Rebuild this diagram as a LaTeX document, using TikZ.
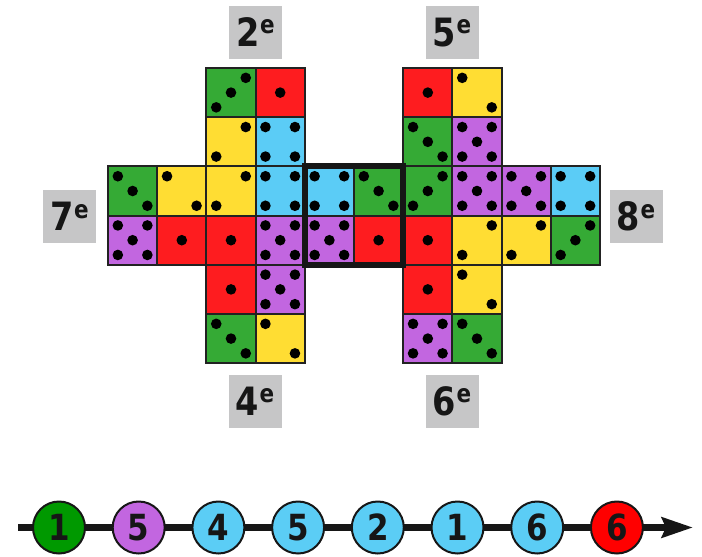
\documentclass[tikz,border=0pt]{standalone}
\usepackage{fontspec}
\setmainfont{DejaVu Sans}
\newfontfamily\condfont{DejaVu Sans}[FakeStretch=0.86]
\usetikzlibrary{arrows.meta}
\definecolor{dgreen}{HTML}{35AA35}
\definecolor{dred}{HTML}{FE1C1F}
\definecolor{dyellow}{HTML}{FFDD33}
\definecolor{dblue}{HTML}{5BCCF6}
\definecolor{dpurple}{HTML}{C266E0}
\definecolor{bgreen}{HTML}{009900}
\definecolor{bpurple}{HTML}{C266E0}
\definecolor{bblue}{HTML}{5BCDF5}
\definecolor{bred}{HTML}{FF0000}
\definecolor{labgray}{HTML}{C6C6C7}
\definecolor{ink}{HTML}{161616}
\definecolor{frame}{HTML}{222222}
\def\pA{0.5/0.5}
\def\pBa{0.2/0.2,0.8/0.8}
\def\pBb{0.8/0.2,0.2/0.8}
\def\pCa{0.2/0.2,0.5/0.5,0.8/0.8}
\def\pCb{0.8/0.2,0.5/0.5,0.2/0.8}
\def\pD{0.2/0.2,0.8/0.2,0.2/0.8,0.8/0.8}
\def\pE{0.2/0.2,0.8/0.2,0.2/0.8,0.8/0.8,0.5/0.5}
\newcommand\diepips[1]{\foreach \fx/\fy in {#1}{\fill[black] ({108+(\dieX+\fx)*49.2},{68+(\dieY+\fy)*49.2}) circle[radius=5.3];}}
\newcommand\die[4]{\def\dieX{#1}\def\dieY{#2}%
  \filldraw[draw=frame,line width=2pt,fill=#3] ({108+#1*49.2},{68+#2*49.2}) rectangle ++(49.2,49.2);
  \expandafter\diepips\expandafter{#4}}
\newcommand\labsup[1]{\kern0.5pt\raisebox{12.5pt}{\fontsize{25}{25}\selectfont #1}}
\tikzset{
  labbox/.style={fill=labgray,minimum width=53pt,minimum height=53pt,inner sep=0pt,
    text height=28pt,text depth=0pt,text=ink,font=\condfont\fontsize{39}{39}\selectfont\bfseries},
  ball/.style={circle,draw=ink,line width=2pt,minimum size=52pt,inner sep=0pt,
    text=ink,font=\condfont\fontsize{36}{36}\selectfont\bfseries},
}
\begin{document}
\begin{tikzpicture}[x=1pt,y=-1pt]
\useasboundingbox (0,0) rectangle (702,557);
% row 0
\die{2}{0}{dgreen}{\pCb}
\die{3}{0}{dred}{\pA}
\die{6}{0}{dred}{\pA}
\die{7}{0}{dyellow}{\pBa}
% row 1
\die{2}{1}{dyellow}{\pBb}
\die{3}{1}{dblue}{\pD}
\die{6}{1}{dgreen}{\pCa}
\die{7}{1}{dpurple}{\pE}
% row 2
\die{0}{2}{dgreen}{\pCa}
\die{1}{2}{dyellow}{\pBa}
\die{2}{2}{dyellow}{\pBb}
\die{3}{2}{dblue}{\pD}
\die{4}{2}{dblue}{\pD}
\die{5}{2}{dgreen}{\pCa}
\die{6}{2}{dgreen}{\pCb}
\die{7}{2}{dpurple}{\pE}
\die{8}{2}{dpurple}{\pE}
\die{9}{2}{dblue}{\pD}
% row 3
\die{0}{3}{dpurple}{\pE}
\die{1}{3}{dred}{\pA}
\die{2}{3}{dred}{\pA}
\die{3}{3}{dpurple}{\pE}
\die{4}{3}{dpurple}{\pE}
\die{5}{3}{dred}{\pA}
\die{6}{3}{dred}{\pA}
\die{7}{3}{dyellow}{\pBb}
\die{8}{3}{dyellow}{\pBb}
\die{9}{3}{dgreen}{\pCb}
% row 4
\die{2}{4}{dred}{\pA}
\die{3}{4}{dpurple}{\pE}
\die{6}{4}{dred}{\pA}
\die{7}{4}{dyellow}{\pBa}
% row 5
\die{2}{5}{dgreen}{\pCa}
\die{3}{5}{dyellow}{\pBa}
\die{6}{5}{dpurple}{\pE}
\die{7}{5}{dgreen}{\pCa}
% highlighted pair
\draw[line width=6pt,draw=ink] (304.8,166.4) rectangle (403.2,264.8);
% labels
\node[labbox] (l2) at (255.5,32) {2\labsup{e}};
\node[labbox] (l5) at (452,32) {5\labsup{e}};
\node[labbox] (l7) at (69.5,216.5) {7\labsup{e}};
\node[labbox] (l8) at (636,216.5) {8\labsup{e}};
\node[labbox] (l4) at (255,401) {4\labsup{e}};
\node[labbox] (l6) at (452,401) {6\labsup{e}};
% sequence line
\coordinate (s0) at (18,527.5);
\coordinate (s1) at (693,527.5);
\draw[line width=7pt,draw=ink,-{Stealth[length=31pt,width=20pt,inset=4pt]}] (s0) -- (s1);
\node[ball,fill=bgreen] (b1) at (59,527.5) {1};
\node[ball,fill=bpurple] (b2) at (138.7,527.5) {5};
\node[ball,fill=bblue] (b3) at (218.4,527.5) {4};
\node[ball,fill=bblue] (b4) at (298.1,527.5) {5};
\node[ball,fill=bblue] (b5) at (377.8,527.5) {2};
\node[ball,fill=bblue] (b6) at (457.5,527.5) {1};
\node[ball,fill=bblue] (b7) at (537.2,527.5) {6};
\node[ball,fill=bred] (b8) at (616.9,527.5) {6};
\end{tikzpicture}
\end{document}
